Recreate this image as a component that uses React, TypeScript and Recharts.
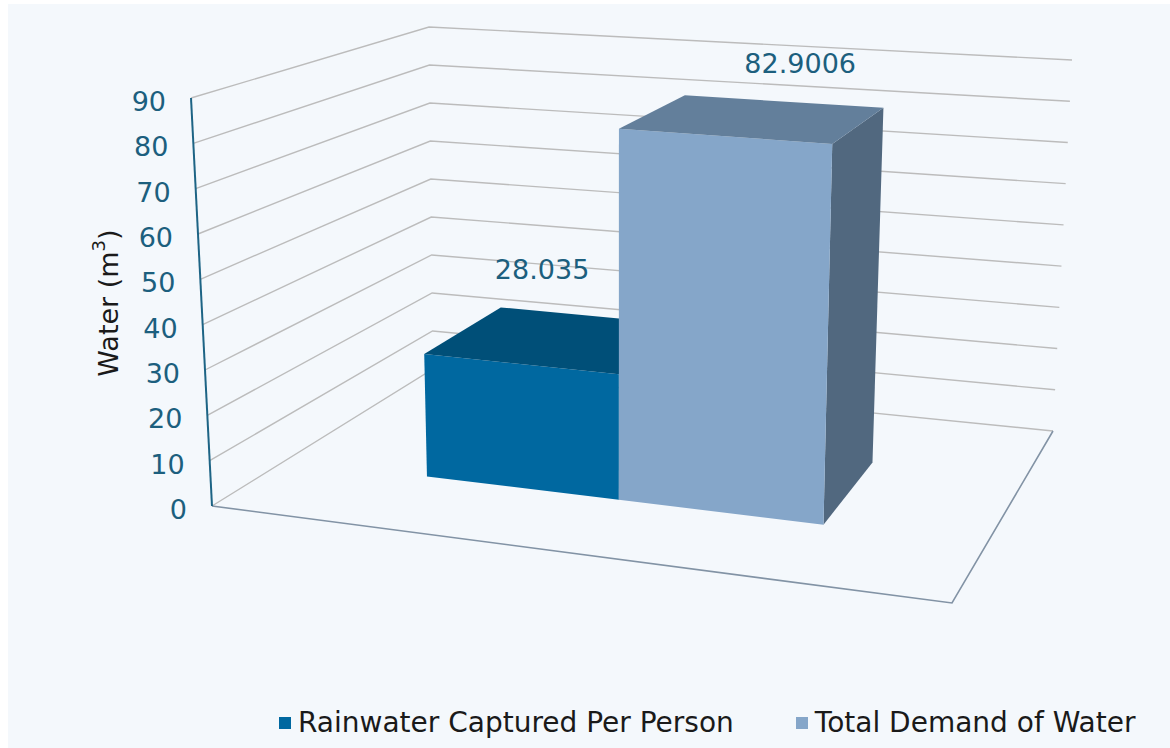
import React from 'react';
import { BarChart, Bar, XAxis, YAxis, Legend, LabelList, Customized } from 'recharts';

const categories = ['Water'];
const rainwaterPerPerson = [28.035];
const totalDemand = [82.9006];
const yTicks = [0, 10, 20, 30, 40, 50, 60, 70, 80, 90];

const data = categories.map((name, i) => ({
  name,
  rain: rainwaterPerPerson[i],
  demand: totalDemand[i],
}));

const CW = 1170;
const CH = 748;
const L = 85;
const R = 85;
const PW = CW - L - R;
const VMAX = 90;
const FONT = '"DejaVu Sans", Verdana, sans-serif';

// corners of the 3d box: floor (v=0) and ceiling (v=VMAX)
const FL0 = [212, 506], FR0 = [952, 603], BL0 = [433, 369], BR0 = [1053, 431];
const FL1 = [191, 98], FR1 = [968, 155], BL1 = [429, 27], BR1 = [1072, 60];
const WF = 0.34; // bar front depth
const WB = 0.72; // bar back depth
const K = 1.12; // perspective foreshortening across the floor

const lerp = (a: number[], b: number[], t: number) => [a[0] + (b[0] - a[0]) * t, a[1] + (b[1] - a[1]) * t];
const bil = (fl: number[], fr: number[], bl: number[], br: number[], u: number, w: number) =>
  lerp(lerp(fl, fr, u), lerp(bl, br, u), w);

// u: across (0..1), w: depth (0 front .. 1 back), v: value
const P = (u: number, w: number, v: number) => {
  const uu = u / (u + K * (1 - u));
  const t = v / VMAX;
  return lerp(bil(FL0, FR0, BL0, BR0, uu, w), bil(FL1, FR1, BL1, BR1, uu, w), t);
};

const pts = (arr: number[][]) => arr.map((q) => `${q[0]},${q[1]}`).join(' ');

const Walls = () => {
  const a0 = P(0, 0, 0);
  const a1 = P(0, 0, VMAX);
  return (
    <g>
      {yTicks.map((v) => (
        <polyline
          key={v}
          points={pts([P(0, 0, v), P(0, 1, v), P(1, 1, v)])}
          fill="none"
          stroke="#bcbcbc"
          strokeWidth={1.4}
        />
      ))}
      <polyline points={pts([P(0, 0, 0), P(1, 0, 0), P(1, 1, 0)])} fill="none" stroke="#8293a5" strokeWidth={1.6} />
      <line x1={a0[0]} y1={a0[1]} x2={a1[0]} y2={a1[1]} stroke="#1d6485" strokeWidth={2} />
      {yTicks.map((v) => {
        const [x, y] = P(0, 0, v);
        return (
          <text key={'t' + v} x={x - 25} y={y + 13} textAnchor="end" fontSize={27} fontFamily={FONT} fill="#1c5f7e">
            {v}
          </text>
        );
      })}
      <text x={108} y={303} transform="rotate(-90 108 303)" textAnchor="middle" dominantBaseline="central" fontSize={27} fontFamily={FONT} fill="#1a1a1a">
        Water (m<tspan dy={-10} fontSize={18}>3</tspan><tspan dy={10}>)</tspan>
      </text>
    </g>
  );
};

const box = (front: string, top: string, side: string) => (p: any) => {
  const u0 = (p.x - L) / PW;
  const u1 = (p.x + p.width - L) / PW;
  const full = p.background && p.background.height ? p.background.height : 1;
  const v = (p.height / full) * VMAX;
  const f0 = P(u0, WF, 0), f1 = P(u1, WF, 0), f2 = P(u1, WF, v), f3 = P(u0, WF, v);
  const b1 = P(u1, WB, 0), b2 = P(u1, WB, v), b3 = P(u0, WB, v);
  return (
    <g>
      <polygon points={pts([f1, b1, b2, f2])} fill={side} />
      <polygon points={pts([f0, f1, f2, f3])} fill={front} />
      <polygon points={pts([f3, f2, b2, b3])} fill={top} />
    </g>
  );
};

const barLabel = (dx: number, dy: number) => (p: any) => {
  const u = (p.x + p.width / 2 - L) / PW;
  const [x, y] = P(u, (WF + WB) / 2, Number(p.value));
  return (
    <text x={x + dx} y={y + dy} textAnchor="middle" dominantBaseline="central" fontSize={27} fontFamily={FONT} fill="#1c5f7e">
      {p.value}
    </text>
  );
};

const LegendContent = (props: any) => (
  <div style={{ display: 'flex', fontFamily: FONT, fontSize: 28, color: '#1a1a1a', whiteSpace: 'nowrap' }}>
    {props.payload.map((e: any, i: number) => (
      <div key={i} style={{ display: 'flex', alignItems: 'center', marginRight: 62 }}>
        <span style={{ width: 12, height: 12, background: e.color, marginRight: 7, display: 'inline-block' }} />
        <span>{e.value}</span>
      </div>
    ))}
  </div>
);

export default function App() {
  return (
    <div style={{ position: 'absolute', left: 0, top: 0, width: CW, height: CH, background: '#fff' }}>
      <div style={{ position: 'absolute', left: 8, top: 4, width: CW - 8, height: CH - 4, background: '#f4f8fc' }} />
      <div style={{ position: 'absolute', left: 0, top: 0 }}>
        <BarChart width={CW} height={CH} data={data} margin={{ top: 0, right: R, bottom: 0, left: L }} barCategoryGap="21.4%" barGap={0}>
          <Customized component={Walls} />
          <XAxis dataKey="name" hide padding={{ left: 6, right: 0 }} />
          <YAxis domain={[0, VMAX]} ticks={yTicks} hide />
          <Bar dataKey="rain" name="Rainwater Captured Per Person" fill="#0068a0" shape={box('#0068a0', '#004f78', '#003c5c')} isAnimationActive={false}>
            <LabelList dataKey="rain" content={barLabel(-13, -70)} />
          </Bar>
          <Bar dataKey="demand" name="Total Demand of Water" fill="#85a6c9" shape={box('#85a6c9', '#637f9b', '#51687f')} isAnimationActive={false}>
            <LabelList dataKey="demand" content={barLabel(47, -55)} />
          </Bar>
          <Legend content={LegendContent} wrapperStyle={{ left: 279, top: 706, width: 'auto', bottom: 'auto' }} />
        </BarChart>
      </div>
    </div>
  );
}
